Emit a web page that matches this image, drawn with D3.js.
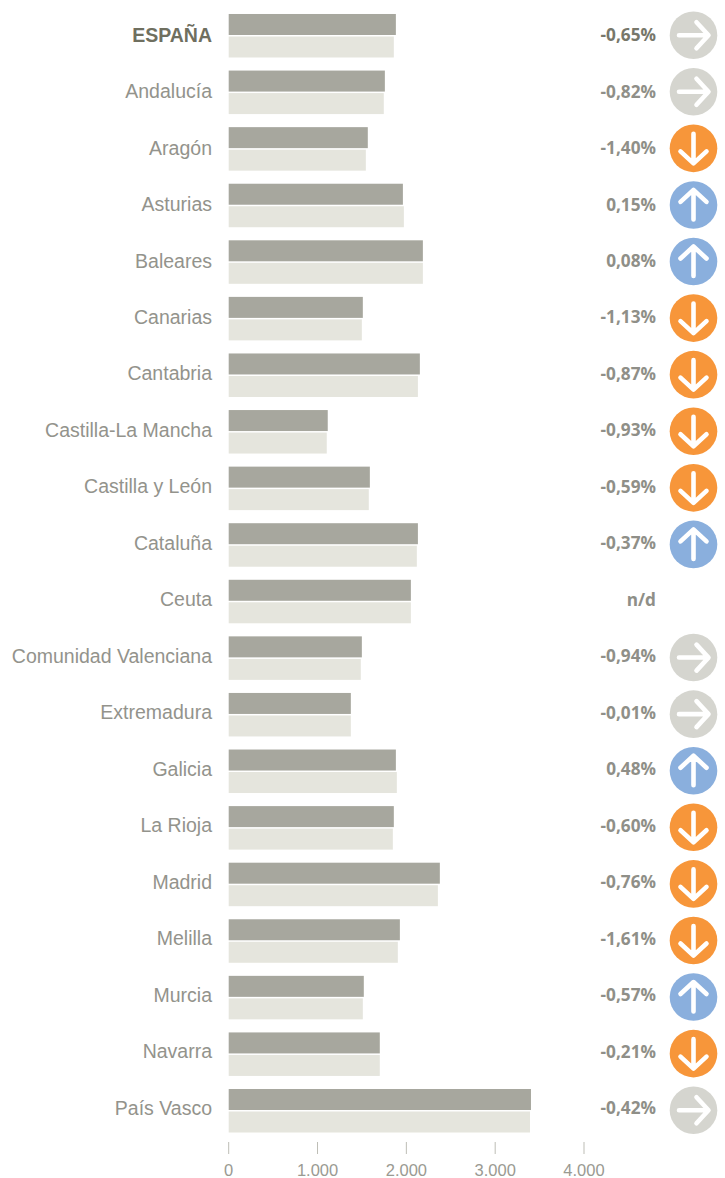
<!DOCTYPE html>
<html><head><meta charset="utf-8">
<script src="https://cdn.jsdelivr.net/npm/d3@7/dist/d3.min.js"></script>
<style>html,body{margin:0;padding:0;background:#fff}svg{display:block}</style>
</head><body><div id="chart"></div>
<script>
const regions=["ESPAÑA","Andalucía","Aragón","Asturias","Baleares","Canarias","Cantabria","Castilla-La Mancha","Castilla y León","Cataluña","Ceuta","Comunidad Valenciana","Extremadura","Galicia","La Rioja","Madrid","Melilla","Murcia","Navarra","País Vasco"];
const seriesA=[1882,1758,1566,1961,2186,1510,2152,1115,1589,2130,2051,1499,1375,1882,1859,2377,1927,1521,1701,3403];
const seriesB=[1859,1746,1544,1972,2186,1499,2130,1104,1577,2118,2051,1487,1375,1893,1848,2355,1904,1510,1701,3392];
const changes=["-0,65%","-0,82%","-1,40%","0,15%","0,08%","-1,13%","-0,87%","-0,93%","-0,59%","-0,37%","n/d","-0,94%","-0,01%","0,48%","-0,60%","-0,76%","-1,61%","-0,57%","-0,21%","-0,42%"];
const trends=["flat","flat","down","up","up","down","down","down","down","up",null,"flat","flat","up","down","down","down","up","down","flat"];
const ticks=[0,1000,2000,3000,4000];

const W=725,H=1178;
const svg=d3.select("#chart").append("svg").attr("width",W).attr("height",H);
const x=d3.scaleLinear().domain([0,4000]).range([228.7,584]);
const y=d3.scaleBand().domain(regions).range([7.2,1138.8]);
const yText=d3.scaleBand().domain(regions).range([6.2,1135.6]);
const barH=21;
const sans="'Liberation Sans',Arial,sans-serif";
const semi="'Open Sans',sans-serif";
const trendColor={flat:"#d5d5cf",down:"#f7963a",up:"#8aafdd"};
const trendRot={flat:0,down:90,up:-90};
const rowC=d=>y(d)+y.bandwidth()/2;
const textC=d=>yText(d)+yText.bandwidth()/2;

const bars=svg.selectAll("g.row").data(regions).join("g").attr("class","row")
  .attr("transform",d=>`translate(0,${rowC(d)})`);

bars.append("rect").attr("x",x(0)).attr("y",-barH-0.5).attr("height",barH)
  .attr("width",(d,i)=>x(seriesA[i])-x(0)).attr("fill","#a7a79e");
bars.append("rect").attr("x",x(0)).attr("y",1).attr("height",barH)
  .attr("width",(d,i)=>x(seriesB[i])-x(0)).attr("fill","#e5e5dd");

const labels=svg.selectAll("g.lab").data(regions).join("g").attr("class","lab")
  .attr("transform",d=>`translate(0,${textC(d)})`);
labels.append("text").attr("x",212).attr("y",7.2).attr("text-anchor","end")
  .attr("font-family",sans).attr("font-size",19.5)
  .attr("font-weight",(d,i)=>i===0?700:400)
  .attr("fill",(d,i)=>i===0?"#6f6f5f":"#93938c")
  .text(d=>d);
labels.append("text").attr("x",656).attr("y",6.7).attr("text-anchor","end")
  .attr("font-family",semi).attr("font-size",17.2).attr("font-weight",700)
  .attr("fill",(d,i)=>i===0?"#77776a":"#8f8f88")
  .text((d,i)=>changes[i]);

const icons=bars.filter((d,i)=>trends[i]!==null).append("g")
  .attr("transform","translate(693.5,-0.3)");
icons.append("circle").attr("r",23.8).attr("fill",d=>trendColor[trends[regions.indexOf(d)]]);
icons.append("path").attr("d","M-14.5,0H14.5M3,-13L15,0L3,13")
  .attr("transform",d=>`rotate(${trendRot[trends[regions.indexOf(d)]]})`)
  .attr("fill","none").attr("stroke","#fff").attr("stroke-width",4.6)
  .attr("stroke-linecap","round").attr("stroke-linejoin","round");

const ax=svg.append("g").selectAll("g").data(ticks).join("g")
  .attr("transform",d=>`translate(${x(d)},0)`);
ax.append("line").attr("y1",1142).attr("y2",1154).attr("stroke","#bdbdb5").attr("stroke-width",1);
ax.append("text").attr("y",1176).attr("text-anchor","middle")
  .attr("font-family",sans).attr("font-size",16.5).attr("fill","#9a9a92")
  .text(d=>d===0?"0":d3.format(",")(d).replace(/,/g,"."));
</script></body></html>
